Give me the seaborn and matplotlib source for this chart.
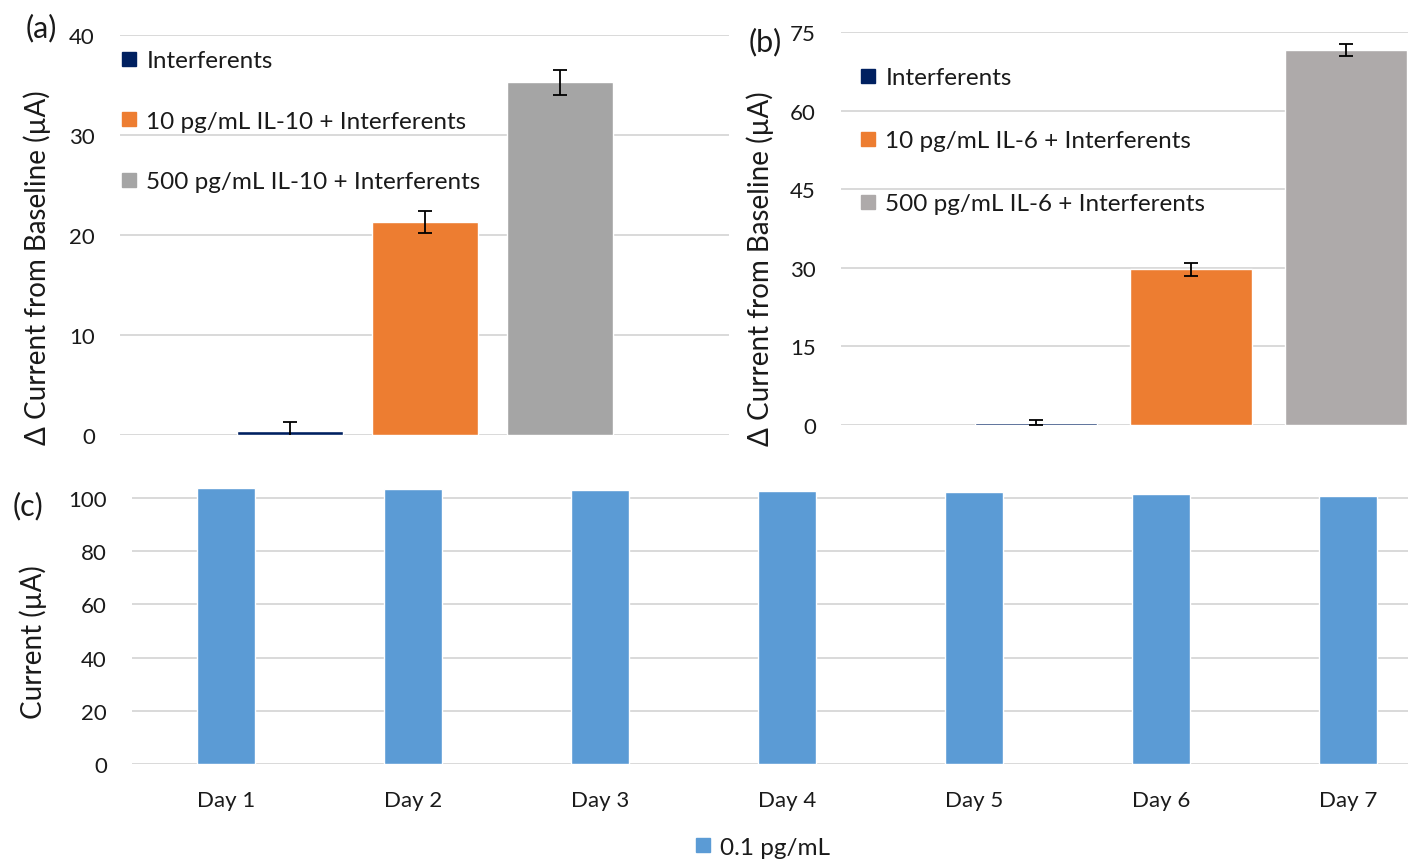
import matplotlib
matplotlib.use("Agg")
import matplotlib.pyplot as plt
from matplotlib.lines import Line2D
import numpy as np
import pandas as pd
import seaborn as sns

# ---- data ----
a_labels = ["Interferents", "10 pg/mL IL-10 + Interferents", "500 pg/mL IL-10 + Interferents"]
a_values = [0.43, 21.3, 35.3]
a_errors = [0.84, 1.1, 1.25]

b_labels = ["Interferents", "10 pg/mL IL-6 + Interferents", "500 pg/mL IL-6 + Interferents"]
b_values = [0.45, 29.7, 71.6]
b_errors = [0.5, 1.3, 1.1]

c_days = ["Day 1", "Day 2", "Day 3", "Day 4", "Day 5", "Day 6", "Day 7"]
c_values = [103.8, 103.4, 103.0, 102.5, 102.1, 101.5, 100.9]
c_series = "0.1 pg/mL"

a_ticks = [0, 10, 20, 30, 40]
b_ticks = [0, 15, 30, 45, 60, 75]
c_ticks = [0, 20, 40, 60, 80, 100]

a_colors = ["#002060", "#ED7D31", "#A5A5A5"]
b_colors = ["#002060", "#ED7D31", "#AEAAAA"]
c_color = "#5B9BD5"

sns.set_theme(style="white")
plt.rcParams["font.family"] = ["Lato", "DejaVu Sans"]

W, H = 1408, 862
fig = plt.figure(figsize=(W / 100, H / 100), dpi=100)


def px_axes(left, right, top, bottom):
    return fig.add_axes([left / W, 1 - bottom / H, (right - left) / W, (bottom - top) / H])


def fig_text(x, y, s, **kw):
    fig.text(x / W, 1 - y / H, s, color=TXT, ha="center", va="center", **kw)


GRID = "#D9D9D9"
TXT = "#1a1a1a"
TICK_FS = 16
LEG_FS = 17.5
LAB_FS = 20


def style(ax, ticks, pad):
    ax.set_yticks(ticks)
    ax.yaxis.grid(True, color=GRID, linewidth=1.4)
    ax.set_axisbelow(True)
    for s in ax.spines.values():
        s.set_visible(False)
    ax.tick_params(axis="y", length=0, pad=pad, labelsize=TICK_FS, labelcolor=TXT)
    ax.tick_params(axis="x", length=0)
    ax.set_ylabel("")
    ax.set_xlabel("")


def square_handles(labels, colors):
    return [Line2D([], [], marker="s", linestyle="none", markersize=10,
                   markerfacecolor=c, markeredgecolor=c, label=l)
            for l, c in zip(labels, colors)]


def panel(ax, labels, values, errors, colors, ticks, ylim, xlim, width):
    df = pd.DataFrame({"label": labels, "value": values})
    sns.barplot(data=df, x="label", y="value", hue="label", order=labels,
                hue_order=labels, palette=colors, width=width, dodge=False,
                legend=False, ax=ax, saturation=1)
    ax.errorbar(np.arange(len(values)), values, yerr=errors, fmt="none",
                ecolor="black", elinewidth=1.3, capsize=5, capthick=1.3)
    style(ax, ticks, 18)
    ax.set_ylim(*ylim)
    ax.set_xlim(*xlim)
    ax.set_xticks([])


def add_legend(ax, labels, colors, left, top, spacing):
    ax.legend(handles=square_handles(labels, colors), loc="upper left",
              bbox_to_anchor=(left / W, 1 - top / H), bbox_transform=fig.transFigure,
              frameon=False, fontsize=LEG_FS, labelspacing=spacing, handlelength=0.6,
              handletextpad=0.4, borderpad=0, borderaxespad=0, labelcolor=TXT)


# (a)
ax_a = px_axes(120, 729, 36, 436)
panel(ax_a, a_labels, a_values, a_errors, a_colors, a_ticks, (0, 40), (-1.259, 3.252), 0.785)
add_legend(ax_a, a_labels, a_colors, 122, 51, 1.63)

# (b)
ax_b = px_axes(841, 1408, 33, 426)
panel(ax_b, b_labels, b_values, b_errors, b_colors, b_ticks, (0, 75), (-1.258, 2.4), 0.787)
add_legend(ax_b, b_labels, b_colors, 861, 68, 1.73)

# (c)
ax_c = px_axes(132, 1408, 483, 765)
dfc = pd.DataFrame({"day": c_days, "value": c_values})
sns.barplot(data=dfc, x="day", y="value", order=c_days, color=c_color,
            width=0.31, ax=ax_c, saturation=1)
style(ax_c, c_ticks, 18)
ax_c.set_ylim(0, 106)
ax_c.set_xlim(-0.503, 6.32)
ax_c.tick_params(axis="x", pad=19, labelsize=TICK_FS, labelcolor=TXT)
fig.legend(handles=square_handles([c_series], [c_color]), loc="center",
           bbox_to_anchor=(763 / W, 1 - 848 / H), frameon=False, fontsize=LEG_FS,
           handlelength=0.6, handletextpad=0.4, borderpad=0, labelcolor=TXT)

# axis titles
fig_text(37, 268, "Δ Current from Baseline (µA)", fontsize=LAB_FS, rotation=90)
fig_text(760, 269, "Δ Current from Baseline (µA)", fontsize=LAB_FS, rotation=90)
fig_text(33, 642, "Current (µA)", fontsize=LAB_FS, rotation=90)

# panel letters
fig_text(41, 28, "(a)", fontsize=22)
fig_text(765, 42, "(b)", fontsize=22)
fig_text(28, 506, "(c)", fontsize=22)

fig.savefig("out.png", dpi=100)
